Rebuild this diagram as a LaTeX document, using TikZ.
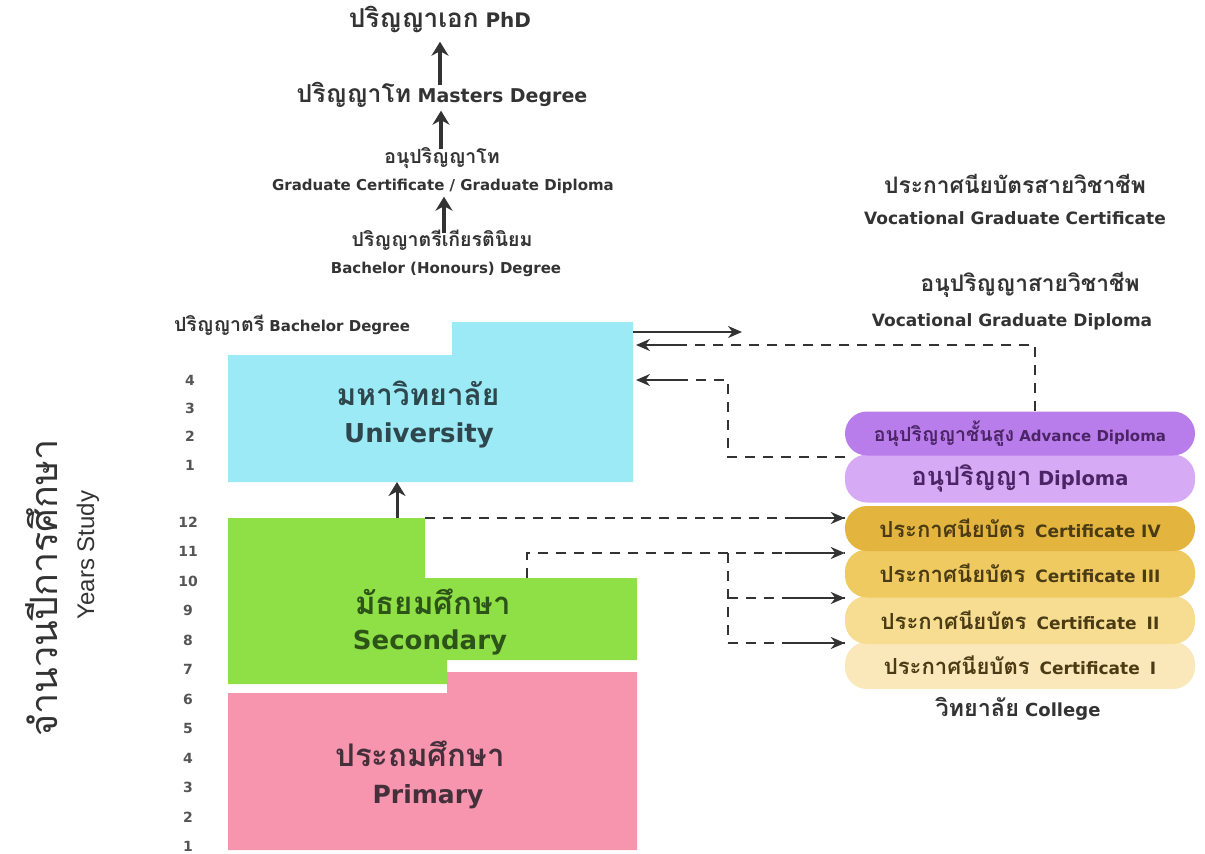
\documentclass[tikz,border=0pt]{standalone}
\usepackage{fontspec}
\setmainfont{DejaVu Sans}
\newfontfamily\thai[Script=Thai,Scale=1.3]{Loma}
\newfontfamily\narrowfont{Liberation Sans}
\usetikzlibrary{arrows.meta,calc}
\definecolor{ink}{HTML}{333333}
\definecolor{numc}{HTML}{555555}
\definecolor{unic}{HTML}{9BEAF6}
\definecolor{secc}{HTML}{8FDF46}
\definecolor{pric}{HTML}{F895AE}
\definecolor{uniink}{HTML}{2E464C}
\definecolor{secink}{HTML}{2C5418}
\definecolor{priink}{HTML}{43303A}
\definecolor{advc}{HTML}{B97DEB}
\definecolor{dipc}{HTML}{D7AAF5}
\definecolor{cfour}{HTML}{E3B53F}
\definecolor{cthree}{HTML}{EFCA60}
\definecolor{ctwo}{HTML}{F7DD92}
\definecolor{cone}{HTML}{FAE8BA}
\definecolor{purink}{HTML}{4B2466}
\definecolor{brink}{HTML}{4A3B14}
\newcommand\thtxt[1]{{\thai #1}}
\newcommand\fsz[1]{\fontsize{#1}{#1}\selectfont}
\tikzset{
  txt/.style={inner sep=2pt, text height=0.7em, text depth=0.2em, font=\bfseries, text=ink},
  num/.style={inner sep=1pt, font=\bfseries\fsz{14}, text=numc},
  pill/.style={rounded corners=22pt, minimum width=350pt, inner sep=0pt},
  arr/.style={-{Stealth[length=14pt,width=12pt]}, line width=2.2pt, draw=ink},
  dline/.style={dash pattern=on 10pt off 8pt, line width=2pt, draw=ink},
  uparr/.style={-{Stealth[length=14pt,width=17pt]}, line width=3.5pt, draw=ink},
}
\begin{document}
\begin{tikzpicture}[x=1pt,y=-1pt]
\useasboundingbox (0,0) rectangle (1205,854);
\fill[white] (0,0) rectangle (1205,854);

% ---- blocks
\fill[unic] (228,355) -- (452,355) -- (452,322) -- (633,322) -- (633,482) -- (228,482) -- cycle;
\fill[secc] (228,518) -- (425,518) -- (425,578) -- (637,578) -- (637,660) -- (447,660) -- (447,684) -- (228,684) -- cycle;
\fill[pric] (228,693) -- (447,693) -- (447,672) -- (637,672) -- (637,850) -- (228,850) -- cycle;

\coordinate (uniB) at (397,482);
\coordinate (secT) at (397,518);
\coordinate (secCorner) at (425,518);
\coordinate (secStep) at (527,578);
\coordinate (uniOut) at (633,332);
\coordinate (uniIn1) at (636,345);
\coordinate (uniIn2) at (636,380);
\coordinate (outEnd) at (742,332);

\node[txt, font=\bfseries\fsz{23}, text=uniink] (uniTh) at (418,403) {\thtxt{มหาวิทยาลัย}};
\node[txt, font=\bfseries\fsz{26}, text=uniink] (uniEn) at (419,440) {University};
\node[txt, font=\bfseries\fsz{24}, text=secink] (secTh) at (433,612) {\thtxt{มัธยมศึกษา}};
\node[txt, font=\bfseries\fsz{26}, text=secink] (secEn) at (430,647) {Secondary};
\node[txt, font=\bfseries\fsz{24}, text=priink] (priTh) at (420,764) {\thtxt{ประถมศึกษา}};
\node[txt, font=\bfseries\fsz{25}, text=priink] (priEn) at (428,801) {Primary};

% ---- year numbers
\foreach \n in {1,...,12} \node[num] (yr\n) at (188,{846.5-(\n-1)*29.5}) {\n};
\foreach \n in {1,...,4} \node[num] (uy\n) at (190,{465-(\n-1)*28.3}) {\n};

\node[rotate=90, inner sep=0pt, font=\fsz{29}, text=ink] (ylTh) at (42,588) {\thtxt{จำนวนปีการศึกษา}};
\node[rotate=90, inner sep=0pt, font=\narrowfont\fsz{24}, text=ink] (ylEn) at (88,555) {Years Study};

% ---- higher degrees
\node[txt, font=\bfseries\fsz{20}] (phd) at (440,25) {\thtxt{ปริญญาเอก} PhD};
\node[txt, font=\bfseries\fsz{19}] (ms) at (442,100) {\thtxt{ปริญญาโท} Masters Degree};
\node[txt, font=\bfseries\fsz{15}] (gdTh) at (442,161) {\thtxt{อนุปริญญาโท}};
\node[txt, font=\bfseries\fsz{15}] (gdEn) at (443,188) {Graduate Certificate / Graduate Diploma};
\node[txt, font=\bfseries\fsz{15}] (hoTh) at (442,244) {\thtxt{ปริญญาตรีเกียรตินิยม}};
\node[txt, font=\bfseries\fsz{15}] (hoEn) at (446,271) {Bachelor (Honours) Degree};
\node[txt, font=\bfseries\fsz{15}] (ba) at (292,329) {\thtxt{ปริญญาตรี} Bachelor Degree};

\draw[uparr, shorten <=8pt, shorten >=10pt] (ms.north -| 440,0) -- (phd.south -| 440,0);
\draw[uparr, shorten <=5pt, shorten >=4pt] (gdTh.north -| 441,0) -- (ms.south -| 441,0);
\draw[uparr, shorten <=4pt, shorten >=2pt] (hoTh.north -| 444,0) -- (gdEn.south -| 444,0);

% ---- vocational texts
\node[txt, font=\bfseries\fsz{17.5}] (vcTh) at (1015,191) {\thtxt{ประกาศนียบัตรสายวิชาชีพ}};
\node[txt, font=\bfseries\fsz{17}] (vcEn) at (1015,222) {Vocational Graduate Certificate};
\node[txt, font=\bfseries\fsz{17.5}] (vdTh) at (1030,289) {\thtxt{อนุปริญญาสายวิชาชีพ}};
\node[txt, font=\bfseries\fsz{17}] (vdEn) at (1012,324) {Vocational Graduate Diploma};

% ---- college pills (bottom first)
\node[pill, fill=cone, minimum height=47pt, text=brink, font=\bfseries\fsz{17}] (c1) at (1020,665.5) {\thtxt{ประกาศนียบัตร}\hspace{10pt}Certificate\hspace{10pt}I};
\node[pill, fill=ctwo, minimum height=48pt, text=brink, font=\bfseries\fsz{17}] (c2) at (1020,620) {\thtxt{ประกาศนียบัตร}\hspace{10pt}Certificate\hspace{10pt}II};
\node[pill, fill=cthree, minimum height=48pt, text=brink, font=\bfseries\fsz{17}] (c3) at (1020,573.5) {\thtxt{ประกาศนียบัตร}\hspace{10pt}Certificate III};
\node[pill, fill=cfour, minimum height=45pt, text=brink, font=\bfseries\fsz{17}] (c4) at (1020,528.5) {\thtxt{ประกาศนียบัตร}\hspace{10pt}Certificate IV};
\node[pill, fill=dipc, minimum height=48pt, text=purink, font=\bfseries\fsz{19.5}] (dip) at (1020,478.5) {\thtxt{อนุปริญญา} Diploma};
\node[pill, fill=advc, minimum height=44pt, text=purink, font=\bfseries\fsz{15}] (adv) at (1020,433.5) {\thtxt{อนุปริญญาชั้นสูง} Advance Diploma};
\node[txt, font=\bfseries\fsz{18}] (col) at (1018,714) {\thtxt{วิทยาลัย} College};

% ---- connectors
\draw[uparr, line width=3pt] (secT) -- (uniB);
\draw[arr] (uniOut) -- (outEnd);

\draw[dline] (adv.north -| 1035,0) -- (1035,345) -- (uniIn1);
\draw[arr] ($(uniIn1)+(45,0)$) -- (uniIn1);

\draw[dline] (dip.west |- 0,457) -- (728,457) -- (728,380) -- (uniIn2);
\draw[arr] ($(uniIn2)+(45,0)$) -- (uniIn2);

\draw[dline] (secCorner) -- (c4.west |- secCorner);
\draw[arr] ($(c4.west |- secCorner)+(-60,0)$) -- (c4.west |- secCorner);

\draw[dline] (secStep) -- (527,553) -- (c3.west |- 0,553);
\draw[arr] ($(c3.west |- 0,553)+(-60,0)$) -- (c3.west |- 0,553);

\draw[dline] (728,553) -- (728,643);
\draw[dline] (728,598) -- (c2.west |- 0,598);
\draw[arr] ($(c2.west |- 0,598)+(-60,0)$) -- (c2.west |- 0,598);
\draw[dline] (728,643) -- (c1.west |- 0,643);
\draw[arr] ($(c1.west |- 0,643)+(-60,0)$) -- (c1.west |- 0,643);
\end{tikzpicture}
\end{document}
